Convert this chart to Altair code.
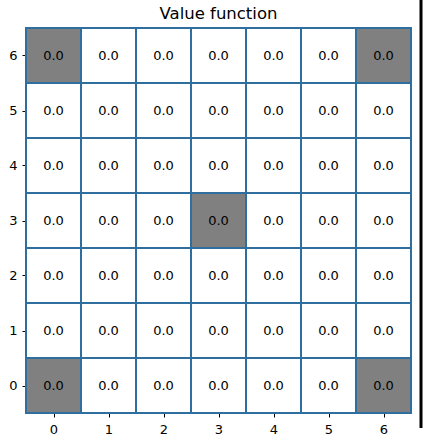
import altair as alt
import pandas as pd

cols = [0, 1, 2, 3, 4, 5, 6]
rows = [0, 1, 2, 3, 4, 5, 6]
values = [[0.0] * 7 for _ in range(7)]  # values[row][col]
gray_cells = [(0, 6), (6, 6), (3, 3), (0, 0), (6, 0)]
ticks = [0, 1, 2, 3, 4, 5, 6]
title_text = "Value function"

recs = []
for r in rows:
    for c in cols:
        recs.append({
            "x": c - 0.5, "x2": c + 0.5, "y": r - 0.5, "y2": r + 0.5,
            "cx": c, "cy": r,
            "label": f"{values[r][c]:.1f}",
            "fill": "gray" if (c, r) in gray_cells else "white",
        })
df = pd.DataFrame(recs)

xs = alt.Scale(domain=[-0.5, 6.5], nice=False, zero=False)
ys = alt.Scale(domain=[-0.5, 6.5], nice=False, zero=False)

axis_kw = dict(values=ticks, format="d", title=None, grid=False, tickColor="black",
               domain=False, labelFont="DejaVu Sans", labelFontSize=13,
               labelColor="black", tickSize=4)

base = alt.Chart(df)
rects = base.mark_rect(stroke="#2e6fa0", strokeWidth=2).encode(
    x=alt.X("x:Q", scale=xs, axis=alt.Axis(labelPadding=6, **axis_kw)),
    x2="x2:Q",
    y=alt.Y("y:Q", scale=ys, axis=alt.Axis(labelPadding=5, **axis_kw)),
    y2="y2:Q",
    color=alt.Color("fill:N", scale=None),
)
texts = base.mark_text(font="DejaVu Sans", fontSize=13, color="black").encode(
    x=alt.X("cx:Q", scale=xs),
    y=alt.Y("cy:Q", scale=ys),
    text="label:N",
)
title = alt.Chart(pd.DataFrame({"t": [title_text]})).mark_text(
    font="DejaVu Sans", fontSize=16.5, color="black", baseline="middle", align="center"
).encode(x=alt.value(192.5), y=alt.value(-14), text="t:N")
edge = alt.Chart(pd.DataFrame({"a": [0]})).mark_rule(color="black", strokeWidth=3, clip=False).encode(
    x=alt.value(395), y=alt.value(-28), y2=alt.value(400)
)

chart = alt.layer(rects, texts, title, edge).properties(
    width=385, height=385,
    padding={"left": 26, "top": 28, "right": 12, "bottom": 27},
    autosize=alt.AutoSizeParams(type="none"),
).configure_view(stroke="black", strokeWidth=1.2)

chart.save("out.html", embed_options={"renderer": "svg", "actions": False})
